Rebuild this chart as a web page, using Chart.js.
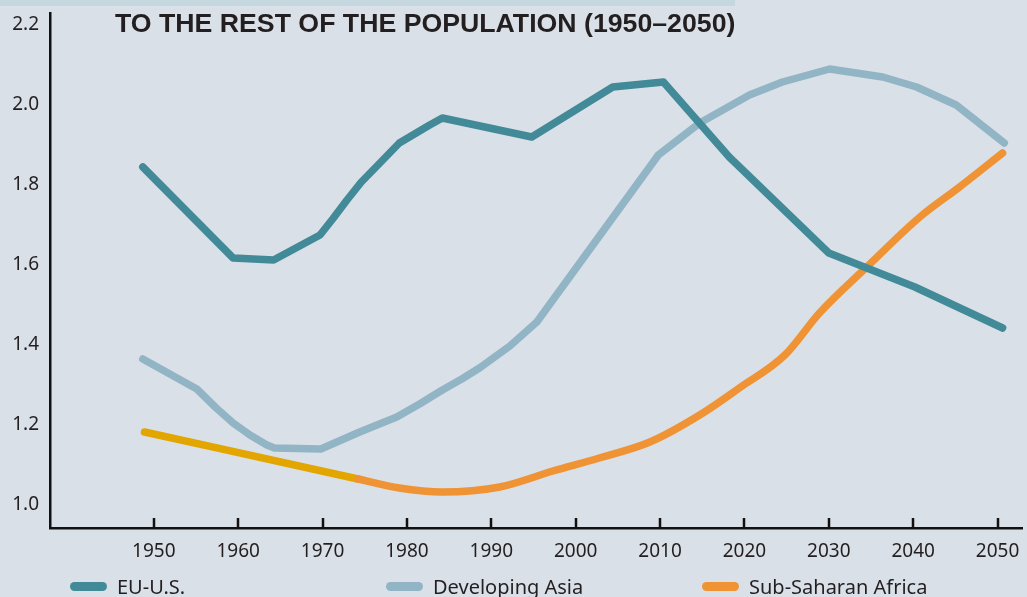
<!DOCTYPE html>
<html>
<head>
<meta charset="utf-8">
<script src="https://cdn.jsdelivr.net/npm/chart.js@4/dist/chart.umd.min.js"></script>
<style>
  body { margin: 0; background: #dae0e8; overflow: hidden; }
  #wrap { position: relative; width: 1027px; height: 597px; }
  #strip { position: absolute; left: 0; top: 0; width: 735px; height: 6px; background: #c5d7df; }
  #title {
    position: absolute; left: 115px; top: 8px;
    font-family: "Liberation Sans", Arial, sans-serif; font-weight: bold;
    font-size: 26.7px; color: #231f20; white-space: nowrap;
  }
  .leg { position: absolute; top: 573px; font-family: "Noto Sans", sans-serif; font-size: 20px; color: #231f20; white-space: nowrap; }
  .leg span { display: inline-block; width: 37px; height: 9px; border-radius: 5px; margin-right: 10px; vertical-align: 3px; }
</style>
</head>
<body>
<div id="wrap">
  <canvas id="chart" width="1027" height="597"></canvas>
  <div id="strip"></div>
  <div id="title">TO THE REST OF THE POPULATION (1950–2050)</div>
  <div id="legend"></div>
</div>
<script>
const seriesNames = ['EU-U.S.', 'Developing Asia', 'Sub-Saharan Africa'];

const euYears  = [1948.7, 1959.4, 1964.2, 1969.7, 1971.2, 1972.9, 1974.6, 1976.8, 1979.1, 1982.7, 1984.2, 1994.8, 2004.4, 2010.4, 2018.2, 2030.0, 2040.2, 2050.6];
const euValues = [1.845, 1.6175, 1.6125, 1.675, 1.715, 1.7625, 1.8075, 1.855, 1.905, 1.95, 1.9675, 1.92, 2.045, 2.0575, 1.87, 1.63, 1.545, 1.4425];

const asiaYears  = [1948.7, 1955.1, 1957.4, 1959.4, 1961.4, 1963.4, 1964.3, 1969.8, 1974.4, 1978.8, 1981.5, 1984.2, 1986.5, 1988.6, 1992.2, 1995.4,
                    2009.8, 2014.7, 2020.6, 2024.5, 2030.1, 2036.4, 2040.4, 2045.1, 2050.8];
const asiaValues = [1.365, 1.29, 1.2425, 1.205, 1.175, 1.15, 1.1425, 1.14, 1.1825, 1.22, 1.2525, 1.2875, 1.315, 1.3425, 1.3975, 1.4575,
                    1.875, 1.955, 2.025, 2.0575, 2.09, 2.07, 2.045, 2.0, 1.905];

const africaYears  = [1948.9, 1974.2, 1979.1, 1984.2, 1991.0, 1997.3, 2002.8, 2008.8, 2014.7, 2019.4, 2024.8, 2028.9, 2034.5, 2040.8, 2045.5, 2050.6];
const africaValues = [1.1825, 1.065, 1.0425, 1.0325, 1.045, 1.085, 1.1175, 1.1575, 1.225, 1.2925, 1.375, 1.48, 1.595, 1.72, 1.795, 1.88];

const xTicks = [1950, 1960, 1970, 1980, 1990, 2000, 2010, 2020, 2030, 2040, 2050];
const yTicks = [1.0, 1.2, 1.4, 1.6, 1.8, 2.0, 2.2];

const colors = ['#428a98', '#92b5c5', '#ef9334'];
const earlyAfrica = '#e3a500';

function pts(xs, ys) {
  return xs.map((x, i) => ({ x: x, y: ys[i] }));
}

// legend in html, cut off by the bottom edge like the original
const legendLeft = [70, 386, 702];
seriesNames.forEach((name, i) => {
  const d = document.createElement('div');
  d.className = 'leg';
  d.style.left = legendLeft[i] + 'px';
  d.innerHTML = '<span style="background:' + colors[i] + '"></span>' + name;
  document.getElementById('legend').appendChild(d);
});

// x axis tick marks point up into the plot
const innerTicks = {
  id: 'innerTicks',
  afterDraw(chart) {
    const ctx = chart.ctx;
    const xs = chart.scales.x;
    const bottom = chart.chartArea.bottom;
    ctx.save();
    ctx.strokeStyle = '#111';
    ctx.lineWidth = 2.5;
    xTicks.forEach(t => {
      const px = Math.round(xs.getPixelForValue(t));
      ctx.beginPath();
      ctx.moveTo(px, bottom);
      ctx.lineTo(px, bottom - 10);
      ctx.stroke();
    });
    ctx.restore();
  }
};

const lineStyle = {
  borderWidth: 7.5,
  pointRadius: 0,
  tension: 0,
  fill: false,
  borderCapStyle: 'round',
  borderJoinStyle: 'round'
};

new Chart(document.getElementById('chart'), {
  type: 'line',
  data: {
    datasets: [
      Object.assign({ label: seriesNames[0], data: pts(euYears, euValues), borderColor: colors[0] }, lineStyle),
      Object.assign({ label: seriesNames[1], data: pts(asiaYears, asiaValues), borderColor: colors[1] }, lineStyle),
      Object.assign({}, lineStyle, {
        label: seriesNames[2], data: pts(africaYears, africaValues), borderColor: colors[2],
        cubicInterpolationMode: 'monotone',
        segment: { borderColor: c => c.p0.parsed.x < 1974 ? earlyAfrica : colors[2] }
      })
    ]
  },
  options: {
    responsive: false,
    animation: false,
    devicePixelRatio: 1,
    layout: { padding: { top: 13, right: 5, left: 0, bottom: 0 } },
    plugins: {
      legend: { display: false },
      tooltip: { enabled: false }
    },
    scales: {
      x: {
        type: 'linear',
        min: 1937.7,
        max: 2052.9,
        afterBuildTicks: s => { s.ticks = xTicks.map(v => ({ value: v })); },
        afterFit: s => { s.height = 69; s.paddingLeft = 0; s.paddingRight = 0; },
        grid: { display: false, drawTicks: false },
        border: { display: true, color: '#111', width: 2.5 },
        ticks: {
          padding: 12,
          color: '#231f20',
          font: { family: 'Noto Sans', size: 19 },
          callback: v => String(v)
        }
      },
      y: {
        min: 0.9425,
        max: 2.23,
        afterBuildTicks: s => { s.ticks = yTicks.map(v => ({ value: v })); },
        afterFit: s => { s.width = 50; s.paddingTop = 0; s.paddingBottom = 0; },
        grid: { display: false, drawTicks: false },
        border: { display: true, color: '#111', width: 2.5 },
        ticks: {
          padding: 11,
          color: '#231f20',
          font: { family: 'Noto Sans', size: 19 },
          callback: v => v.toFixed(1)
        }
      }
    }
  },
  plugins: [innerTicks]
});
</script>
</body>
</html>
